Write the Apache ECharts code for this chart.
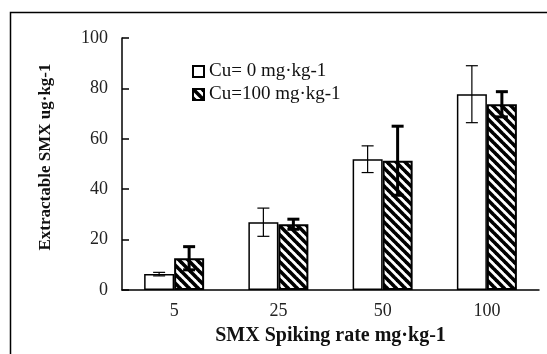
<!DOCTYPE html>
<html>
<head>
<meta charset="utf-8">
<script src="https://cdn.jsdelivr.net/npm/echarts@6/dist/echarts.min.js"></script>
<style>
html,body{margin:0;padding:0;background:#fff;}
#chart{width:547px;height:354px;}
</style>
</head>
<body>
<div id="chart"></div>
<script>
var categories = ['5', '25', '50', '100'];
var cu0Values = [6.3, 26.9, 51.9, 77.7];
var cu0Errors = [0.7, 5.6, 5.3, 11.3];
var cu100Values = [12.6, 26.1, 51.3, 73.7];
var cu100Errors = [4.6, 2.0, 13.7, 5.0];
var yTicks = [0, 20, 40, 60, 80, 100];

function makeHatch() {
  var c = document.createElement('canvas');
  var s = 9;
  c.width = s; c.height = s;
  var g = c.getContext('2d');
  g.fillStyle = '#fff';
  g.fillRect(0, 0, s, s);
  g.strokeStyle = '#000';
  g.lineWidth = 3.6;
  [-s, 0, s].forEach(function (o) {
    g.beginPath();
    g.moveTo(o - 1, -1);
    g.lineTo(o + s + 1, s + 1);
    g.stroke();
  });
  return c;
}
var hatch = { image: makeHatch(), repeat: 'repeat' };

var serif = '"Liberation Serif","Times New Roman",serif';

function errSeries(vals, errs, dx, lw, capW) {
  return {
    type: 'custom',
    z: 5,
    silent: true,
    data: vals.map(function (v, i) { return [i, v - errs[i], v + errs[i]]; }),
    encode: { x: 0, y: [1, 2] },
    renderItem: function (params, api) {
      var lo = api.coord([api.value(0), api.value(1)]);
      var hi = api.coord([api.value(0), api.value(2)]);
      var x = lo[0] + dx;
      var st = { stroke: '#000', lineWidth: lw };
      return {
        type: 'group',
        children: [
          { type: 'line', shape: { x1: x, y1: hi[1], x2: x, y2: lo[1] }, style: st },
          { type: 'line', shape: { x1: x - capW / 2, y1: hi[1], x2: x + capW / 2, y2: hi[1] }, style: st },
          { type: 'line', shape: { x1: x - capW / 2, y1: lo[1], x2: x + capW / 2, y2: lo[1] }, style: st }
        ]
      };
    }
  };
}

var chart = echarts.init(document.getElementById('chart'), null, { renderer: 'canvas' });
chart.setOption({
  animation: false,
  backgroundColor: '#fff',
  graphic: [{
    type: 'rect',
    shape: { x: 10.5, y: 12.5, width: 600, height: 400 },
    style: { fill: 'none', stroke: '#000', lineWidth: 1.5 },
    z: 0
  }],
  grid: { left: 122, top: 38, right: 8, bottom: 64 },
  legend: {
    data: ['Cu= 0 mg·kg-1', 'Cu=100 mg·kg-1'],
    orient: 'vertical',
    left: 187,
    top: 57,
    itemWidth: 11,
    itemHeight: 11,
    itemGap: 4,
    icon: 'rect',
    textStyle: { fontFamily: serif, fontSize: 19, color: '#111', lineHeight: 18 }
  },
  xAxis: {
    type: 'category',
    data: categories,
    name: 'SMX Spiking rate mg·kg-1',
    nameLocation: 'middle',
    nameGap: 36,
    nameTextStyle: { fontFamily: serif, fontSize: 20, fontWeight: 'bold', color: '#111' },
    axisLine: { lineStyle: { color: '#000', width: 1.5 } },
    axisTick: { inside: true, length: 7, lineStyle: { color: '#000', width: 1.5 } },
    axisLabel: { fontFamily: serif, fontSize: 18, color: '#222', margin: 12 }
  },
  yAxis: {
    type: 'value',
    min: 0, max: 100, interval: 20,
    name: 'Extractable SMX ug·kg-1',
    nameLocation: 'middle',
    nameGap: 68,
    nameTextStyle: { fontFamily: serif, fontSize: 17, fontWeight: 'bold', color: '#111', padding: [0, 0, 0, 14] },
    axisLine: { show: true, lineStyle: { color: '#000', width: 1.5 } },
    axisTick: { show: true, inside: true, length: 7, lineStyle: { color: '#000', width: 1.5 } },
    axisLabel: {
      fontFamily: serif, fontSize: 18, color: '#222', margin: 14,
      formatter: function (v) { return yTicks.indexOf(v) >= 0 ? String(v) : ''; }
    },
    splitLine: { show: false }
  },
  series: [
    {
      name: 'Cu= 0 mg·kg-1',
      type: 'bar',
      data: cu0Values,
      barWidth: 30,
      barGap: '0%',
      itemStyle: { color: '#fff', borderColor: '#000', borderWidth: 1.5 }
    },
    {
      name: 'Cu=100 mg·kg-1',
      type: 'bar',
      data: cu100Values,
      barWidth: 30,
      itemStyle: { color: hatch, borderColor: '#000', borderWidth: 2 }
    },
    errSeries(cu0Values, cu0Errors, -15, 1.2, 12),
    errSeries(cu100Values, cu100Errors, 15, 3, 12)
  ]
});
</script>
</body>
</html>
